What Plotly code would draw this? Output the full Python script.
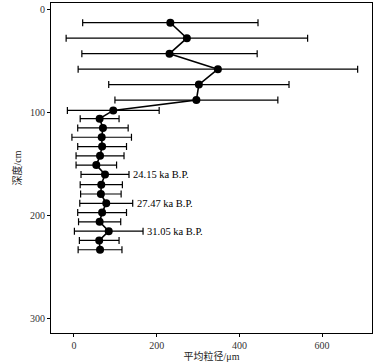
import plotly.graph_objects as go

depth = [13, 28, 43, 58, 73, 88, 98, 106, 115, 124, 133, 142, 151, 160,
         170, 179, 188, 197, 206, 215, 224, 233]
mean_size = [233, 273, 231, 348, 302, 296, 95, 62, 70, 67, 68, 63, 54, 75,
             66, 65, 78, 68, 62, 84, 61, 63]
sd_size = [212, 292, 212, 338, 218, 197, 111, 47, 61, 72, 59, 58, 49, 58,
           51, 49, 64, 59, 51, 83, 48, 53]
age_labels = {13: "24.15 ka B.P.", 16: "27.47 ka B.P.", 19: "31.05 ka B.P."}

FONT = "Liberation Serif, Noto Sans CJK SC, serif"

fig = go.Figure()
fig.add_trace(go.Scatter(
    x=mean_size, y=depth, mode="lines+markers",
    line=dict(color="black", width=1.6),
    marker=dict(color="black", size=8),
    error_x=dict(type="data", array=sd_size, symmetric=True,
                 color="black", thickness=1.2, width=3.5),
    showlegend=False, hoverinfo="skip",
))

for i, txt in age_labels.items():
    fig.add_annotation(x=mean_size[i] + sd_size[i], y=depth[i], text=txt,
                       showarrow=False, xanchor="left", yanchor="middle",
                       xshift=2, font=dict(family=FONT, size=10.5, color="black"))

axis_common = dict(showgrid=False, zeroline=False, showline=True,
                   linecolor="black", linewidth=1.2, mirror=True,
                   ticks="outside", ticklen=3, tickcolor="black",
                   automargin=False,
                   tickfont=dict(family=FONT, size=10, color="#333"))

fig.update_xaxes(range=[-55.6, 720.7], tickvals=[0, 200, 400, 600],
                 title=dict(text="平均粒径/μm", standoff=0,
                            font=dict(family=FONT, size=10, color="#222")),
                 **axis_common)
fig.update_yaxes(range=[313.7, -6.1], tickvals=[0, 100, 200, 300],
                 title=dict(text="深度/cm", standoff=6,
                            font=dict(family=FONT, size=10, color="#222")),
                 **axis_common)

fig.update_layout(width=386, height=362, plot_bgcolor="white",
                  paper_bgcolor="white",
                  margin=dict(l=51, r=14, t=3, b=29))

fig.write_html("out.html", config={"displayModeBar": False},
               post_script="document.body.style.margin='0';document.body.style.overflow='hidden';")
